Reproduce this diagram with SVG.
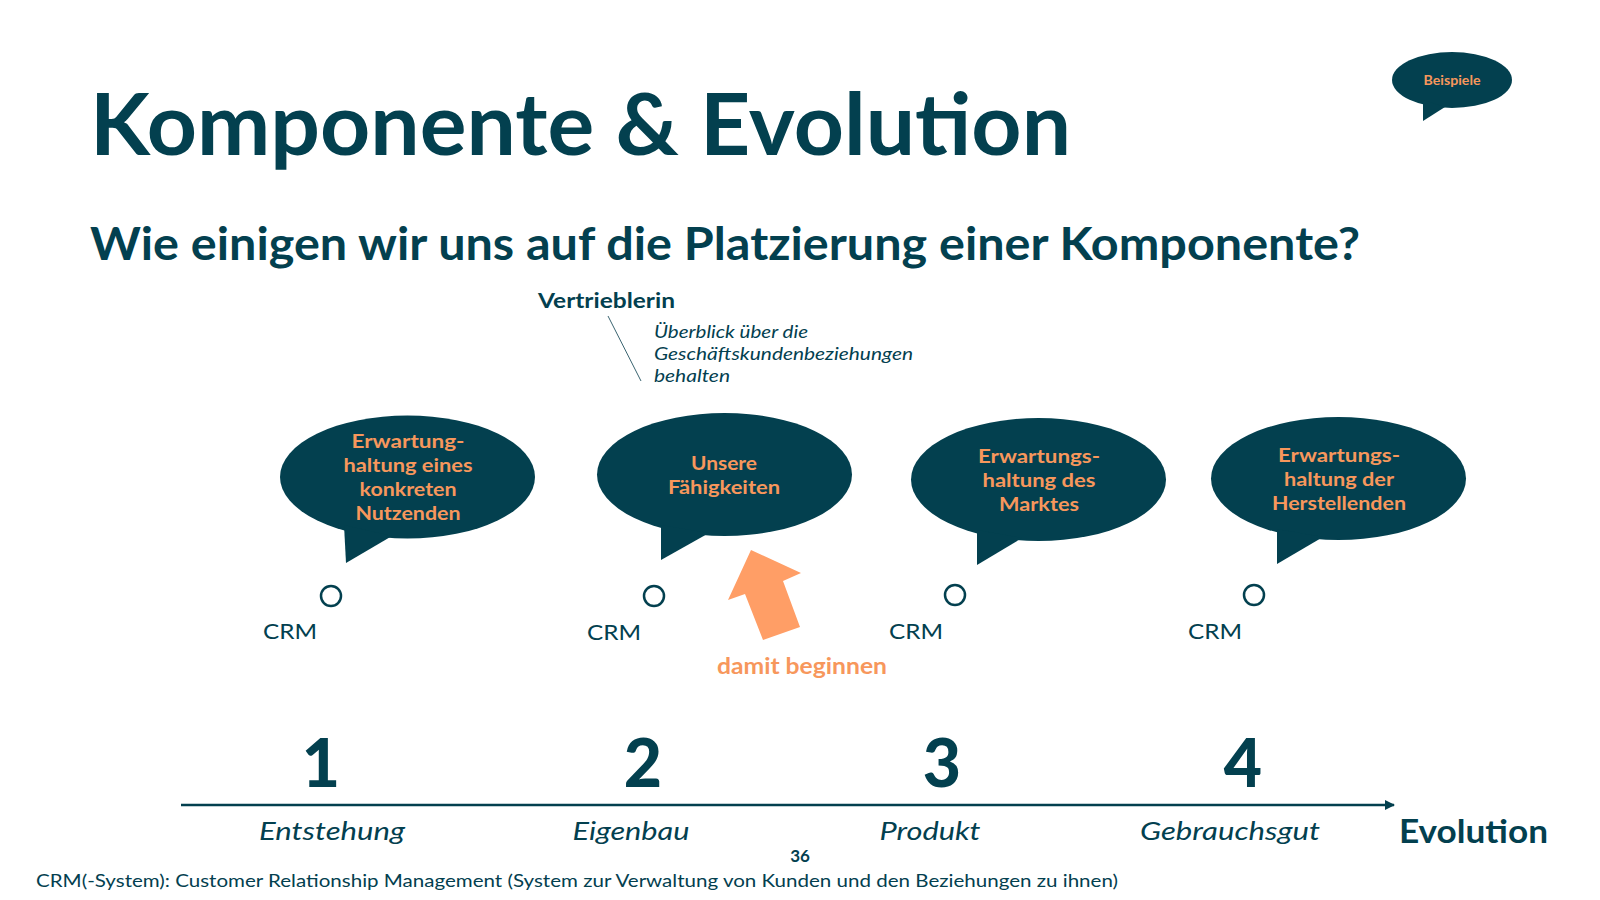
<svg xmlns="http://www.w3.org/2000/svg" width="1600" height="900" viewBox="0 0 1600 900">
<style>
.bub{fill:#03404F}
.bt{font-family:Lato,"Open Sans","Liberation Sans",sans-serif;font-weight:700;font-size:19.5px;fill:#F7975C;text-anchor:middle}
.crm{font-family:Lato,"Open Sans","Liberation Sans",sans-serif;font-size:22px;fill:#03404F}
.dot{fill:none;stroke:#03404F;stroke-width:2.5}
.num{font-family:Lato,"Open Sans","Liberation Sans",sans-serif;font-weight:900;font-size:66px;fill:#03404F;text-anchor:middle}
.stage{font-family:Lato,"Open Sans","Liberation Sans",sans-serif;font-style:italic;font-size:25px;fill:#03404F;text-anchor:middle}
.it{font-family:Lato,"Open Sans","Liberation Sans",sans-serif;font-style:italic;font-size:17.5px;fill:#03404F}
</style>
<defs>
<marker id="ah" viewBox="0 0 10 10" refX="9" refY="5" markerWidth="4" markerHeight="4" orient="auto" markerUnits="strokeWidth">
<path d="M0,0 L10,5 L0,10 z" fill="#03404F"/>
</marker>
</defs>
<rect width="1600" height="900" fill="#FFFFFF"/>

<text x="90" y="155" font-family="Lato,'Open Sans','Liberation Sans',sans-serif" font-weight="700" font-size="86" fill="#03404F" textLength="981" lengthAdjust="spacingAndGlyphs">Komponente &amp; Evolution</text>
<text x="90" y="260" font-family="Lato,'Open Sans','Liberation Sans',sans-serif" font-weight="700" font-size="45" fill="#03404F" textLength="1270" lengthAdjust="spacingAndGlyphs">Wie einigen wir uns auf die Platzierung einer Komponente?</text>

<g id="beispiele">
<ellipse cx="1452" cy="80" rx="60" ry="28" class="bub"/>
<polygon points="1423,100 1423,121 1445,107" class="bub"/>
<text x="1452" y="85" font-family="Lato,'Open Sans','Liberation Sans',sans-serif" font-weight="700" font-size="13" fill="#F7975C" text-anchor="middle" textLength="57" lengthAdjust="spacingAndGlyphs">Beispiele</text>
</g>

<g id="vertrieblerin">
<text x="538" y="308" font-family="Lato,'Open Sans','Liberation Sans',sans-serif" font-weight="700" font-size="20" fill="#03404F" textLength="137" lengthAdjust="spacingAndGlyphs">Vertrieblerin</text>
<text x="654" y="338" class="it" textLength="154" lengthAdjust="spacingAndGlyphs">Überblick über die</text>
<text x="654" y="360" class="it" textLength="259" lengthAdjust="spacingAndGlyphs">Geschäftskundenbeziehungen</text>
<text x="654" y="382" class="it" textLength="76" lengthAdjust="spacingAndGlyphs">behalten</text>
</g>

<g id="connectors">
<line x1="608" y1="316" x2="641" y2="381" stroke="#3A6470" stroke-width="1"/>
<line x1="181" y1="805" x2="1394" y2="805" stroke="#03404F" stroke-width="2.5" marker-end="url(#ah)"/>
</g>

<g id="bubble1">
<ellipse cx="407.5" cy="477" rx="127.5" ry="61.5" class="bub"/>
<polygon points="344,525 346,563 392,536" class="bub"/>
<text class="bt" x="408" y="448" textLength="113" lengthAdjust="spacingAndGlyphs">Erwartung-</text>
<text class="bt" x="408" y="472" textLength="129" lengthAdjust="spacingAndGlyphs">haltung eines</text>
<text class="bt" x="408" y="496" textLength="97" lengthAdjust="spacingAndGlyphs">konkreten</text>
<text class="bt" x="408" y="520" textLength="105" lengthAdjust="spacingAndGlyphs">Nutzenden</text>
</g>
<g id="crm1">
<circle cx="331" cy="596" r="10" class="dot"/>
<text class="crm" x="263" y="639" textLength="54" lengthAdjust="spacingAndGlyphs">CRM</text>
</g>

<g id="bubble2">
<ellipse cx="724.5" cy="474.5" rx="127.5" ry="61.5" class="bub"/>
<polygon points="661,525 661,560 709,533" class="bub"/>
<text class="bt" x="724" y="470" textLength="66" lengthAdjust="spacingAndGlyphs">Unsere</text>
<text class="bt" x="724" y="494" textLength="112" lengthAdjust="spacingAndGlyphs">Fähigkeiten</text>
</g>
<g id="crm2">
<circle cx="654" cy="596" r="10" class="dot"/>
<text class="crm" x="587" y="640" textLength="54" lengthAdjust="spacingAndGlyphs">CRM</text>
</g>

<g id="bubble3">
<ellipse cx="1038.5" cy="479.5" rx="127.5" ry="61.5" class="bub"/>
<polygon points="977,530 977,565 1022,538" class="bub"/>
<text class="bt" x="1039" y="463" textLength="122" lengthAdjust="spacingAndGlyphs">Erwartungs-</text>
<text class="bt" x="1039" y="487" textLength="113" lengthAdjust="spacingAndGlyphs">haltung des</text>
<text class="bt" x="1039" y="511" textLength="80" lengthAdjust="spacingAndGlyphs">Marktes</text>
</g>
<g id="crm3">
<circle cx="955" cy="595" r="10" class="dot"/>
<text class="crm" x="889" y="639" textLength="54" lengthAdjust="spacingAndGlyphs">CRM</text>
</g>

<g id="bubble4">
<ellipse cx="1338.5" cy="478.5" rx="127.5" ry="61.5" class="bub"/>
<polygon points="1277,529 1277,564 1323,537" class="bub"/>
<text class="bt" x="1339" y="462" textLength="122" lengthAdjust="spacingAndGlyphs">Erwartungs-</text>
<text class="bt" x="1339" y="486" textLength="110" lengthAdjust="spacingAndGlyphs">haltung der</text>
<text class="bt" x="1339" y="510" textLength="134" lengthAdjust="spacingAndGlyphs">Herstellenden</text>
</g>
<g id="crm4">
<circle cx="1254" cy="595" r="10" class="dot"/>
<text class="crm" x="1188" y="639" textLength="54" lengthAdjust="spacingAndGlyphs">CRM</text>
</g>

<g id="start">
<polygon points="751,550 801,573 783,581 800,627 763,640 745,594 728,600" fill="#FF9E66"/>
<text x="802" y="674" font-family="Lato,'Open Sans','Liberation Sans',sans-serif" font-weight="700" font-size="22" fill="#F7975C" text-anchor="middle" textLength="170" lengthAdjust="spacingAndGlyphs">damit beginnen</text>
</g>

<g id="axis">
<text class="num" x="321" y="787">1</text>
<text class="num" x="643" y="787">2</text>
<text class="num" x="942" y="787">3</text>
<text class="num" x="1243" y="787">4</text>
<text class="stage" x="332" y="840" textLength="146" lengthAdjust="spacingAndGlyphs">Entstehung</text>
<text class="stage" x="631" y="840" textLength="117" lengthAdjust="spacingAndGlyphs">Eigenbau</text>
<text class="stage" x="930" y="840" textLength="101" lengthAdjust="spacingAndGlyphs">Produkt</text>
<text class="stage" x="1230" y="840" textLength="180" lengthAdjust="spacingAndGlyphs">Gebrauchsgut</text>
<text x="1399" y="843" font-family="Lato,'Open Sans','Liberation Sans',sans-serif" font-weight="700" font-size="32" fill="#03404F" textLength="149" lengthAdjust="spacingAndGlyphs">Evolution</text>
</g>

<text x="800" y="862" font-family="Lato,'Open Sans','Liberation Sans',sans-serif" font-weight="700" font-size="17" fill="#03404F" text-anchor="middle">36</text>
<text x="36" y="887" font-family="Lato,'Open Sans','Liberation Sans',sans-serif" font-size="17" fill="#03404F" textLength="1082" lengthAdjust="spacingAndGlyphs">CRM(-System): Customer Relationship Management (System zur Verwaltung von Kunden und den Beziehungen zu ihnen)</text>
</svg>
